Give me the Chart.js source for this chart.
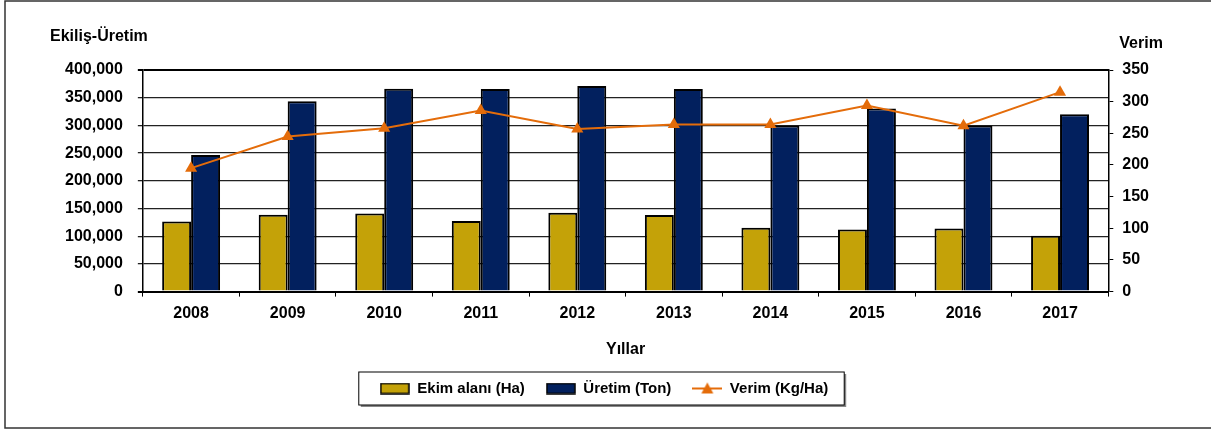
<!DOCTYPE html>
<html>
<head>
<meta charset="utf-8">
<script src="https://cdn.jsdelivr.net/npm/chart.js"></script>
<style>
  html, body { margin: 0; padding: 0; background: #fff; }
  #wrap { width: 1211px; height: 430px; }
</style>
</head>
<body>
<div id="wrap"><canvas id="myChart"></canvas></div>
<script>
const years = ['2008', '2009', '2010', '2011', '2012', '2013', '2014', '2015', '2016', '2017'];
const ekimAlani = [126700, 138800, 141200, 127300, 142400, 138200, 115100, 112100, 114000, 100600];
const uretim = [246700, 343600, 366000, 365500, 370900, 365500, 300000, 330300, 300000, 320000];
const verim = [195, 245, 258, 286, 257, 264, 264, 294, 262, 315];
const leftTicks = [0, 50000, 100000, 150000, 200000, 250000, 300000, 350000, 400000];
const rightTicks = [0, 50, 100, 150, 200, 250, 300, 350];

const gold = '#C4A208';
const navy = '#02205E';
const orange = '#E46C0A';
const font = { family: 'Arial, "Liberation Sans", sans-serif', size: 16, weight: 'bold' };

// little pictures for the legend keys
function boxKey(color) {
  const c = document.createElement('canvas');
  c.width = 30; c.height = 12;
  const g = c.getContext('2d');
  g.fillStyle = color;
  g.fillRect(1, 1, 28, 10);
  g.strokeStyle = '#000';
  g.lineWidth = 1.5;
  g.strokeRect(1, 1, 28, 10);
  return c;
}
function lineKey(color) {
  const c = document.createElement('canvas');
  c.width = 30; c.height = 14;
  const g = c.getContext('2d');
  g.strokeStyle = color;
  g.lineWidth = 2;
  g.beginPath(); g.moveTo(0, 7); g.lineTo(30, 7); g.stroke();
  g.fillStyle = color;
  g.beginPath(); g.moveTo(15, 1); g.lineTo(21, 12); g.lineTo(9, 12); g.closePath(); g.fill();
  return c;
}

const extras = {
  id: 'extras',
  afterDraw(chart) {
    const c = chart.ctx;
    const a = chart.chartArea;
    c.save();
    // outer frame
    c.strokeStyle = '#333';
    c.lineWidth = 1.5;
    c.strokeRect(5, 1, chart.width + 20, 427);
    // axis titles above the axes
    c.fillStyle = '#000';
    c.font = 'bold 16px Arial, "Liberation Sans", sans-serif';
    c.textBaseline = 'alphabetic';
    c.textAlign = 'left';
    c.fillText('Ekiliş-Üretim', 50, 41);
    c.fillText('Verim', a.right + 11, 48);
    // frame round the legend
    const hb = chart.legend.legendHitBoxes;
    if (hb && hb.length) {
      const l = Math.min(...hb.map(h => h.left)) - 21;
      const r = Math.max(...hb.map(h => h.left + h.width)) + 16;
      const cy = hb[0].top + hb[0].height / 2;
      const t = cy - 16.5, b = cy + 16.5;
      c.strokeStyle = '#888';
      c.lineWidth = 2;
      c.beginPath(); c.moveTo(l + 2, b + 1); c.lineTo(r + 1, b + 1); c.lineTo(r + 1, t + 2); c.stroke();
      c.strokeStyle = '#000';
      c.lineWidth = 1;
      c.strokeRect(l, t, r - l, b - t);
    }
    c.restore();
  }
};

const ctx = document.getElementById('myChart');

new Chart(ctx, {
  type: 'bar',
  data: {
    labels: years,
    datasets: [
      {
        label: 'Ekim alanı (Ha)',
        data: ekimAlani,
        backgroundColor: gold,
        borderColor: '#000',
        borderWidth: 2,
        yAxisID: 'y',
        order: 2,
        categoryPercentage: 0.6,
        barPercentage: 1
      },
      {
        label: 'Üretim (Ton)',
        data: uretim,
        backgroundColor: navy,
        borderColor: '#000',
        borderWidth: 2,
        yAxisID: 'y',
        order: 2,
        categoryPercentage: 0.6,
        barPercentage: 1
      },
      {
        type: 'line',
        label: 'Verim (Kg/Ha)',
        data: verim,
        borderColor: orange,
        backgroundColor: orange,
        borderWidth: 2,
        pointStyle: 'triangle',
        pointRadius: 7,
        pointBorderWidth: 0,
        yAxisID: 'y1',
        order: 0
      }
    ]
  },
  options: {
    responsive: true,
    maintainAspectRatio: false,
    animation: false,
    devicePixelRatio: 1,
    layout: { padding: { left: 50, right: 53, top: 70, bottom: 24 } },
    plugins: {
      tooltip: { enabled: false },
      legend: {
        position: 'bottom',
        labels: {
          color: '#000',
          font: { family: font.family, size: 15, weight: 'bold' },
          usePointStyle: true,
          pointStyleWidth: 30,
          padding: 21,
          generateLabels(chart) {
            const keys = [boxKey(gold), boxKey(navy), lineKey(orange)];
            return chart.data.datasets.map((ds, i) => ({
              text: ds.label,
              pointStyle: keys[i],
              datasetIndex: i,
              fontColor: '#000',
              lineWidth: 0,
              hidden: false
            }));
          }
        }
      }
    },
    scales: {
      x: {
        offset: true,
        grid: { offset: true, drawOnChartArea: false, drawTicks: true, tickLength: 5, color: '#000' },
        border: { color: '#000', width: 2 },
        ticks: { color: '#000', font: font, padding: 7, maxRotation: 0 },
        title: { display: true, text: 'Yıllar', color: '#000', font: font, padding: { top: 10, bottom: 1 } }
      },
      y: {
        position: 'left',
        min: leftTicks[0],
        max: leftTicks[leftTicks.length - 1],
        afterBuildTicks: axis => { axis.ticks = leftTicks.map(v => ({ value: v })); },
        grid: {
          color: c => (c.tick.value === 0 || c.tick.value === 400000) ? '#000' : '#222',
          lineWidth: c => (c.tick.value === 0 || c.tick.value === 400000) ? 2 : 1.3,
          tickLength: 5
        },
        border: { color: '#000', width: 1.5 },
        ticks: {
          color: '#000',
          font: font,
          padding: 15,
          callback: v => v.toLocaleString('en-US')
        }
      },
      y1: {
        position: 'right',
        min: rightTicks[0],
        max: rightTicks[rightTicks.length - 1],
        afterBuildTicks: axis => { axis.ticks = rightTicks.map(v => ({ value: v })); },
        grid: { drawOnChartArea: false, tickLength: 5, color: '#000' },
        border: { color: '#000', width: 1.5 },
        ticks: { color: '#000', font: font, padding: 9 }
      }
    }
  },
  plugins: [extras]
});
</script>
</body>
</html>
